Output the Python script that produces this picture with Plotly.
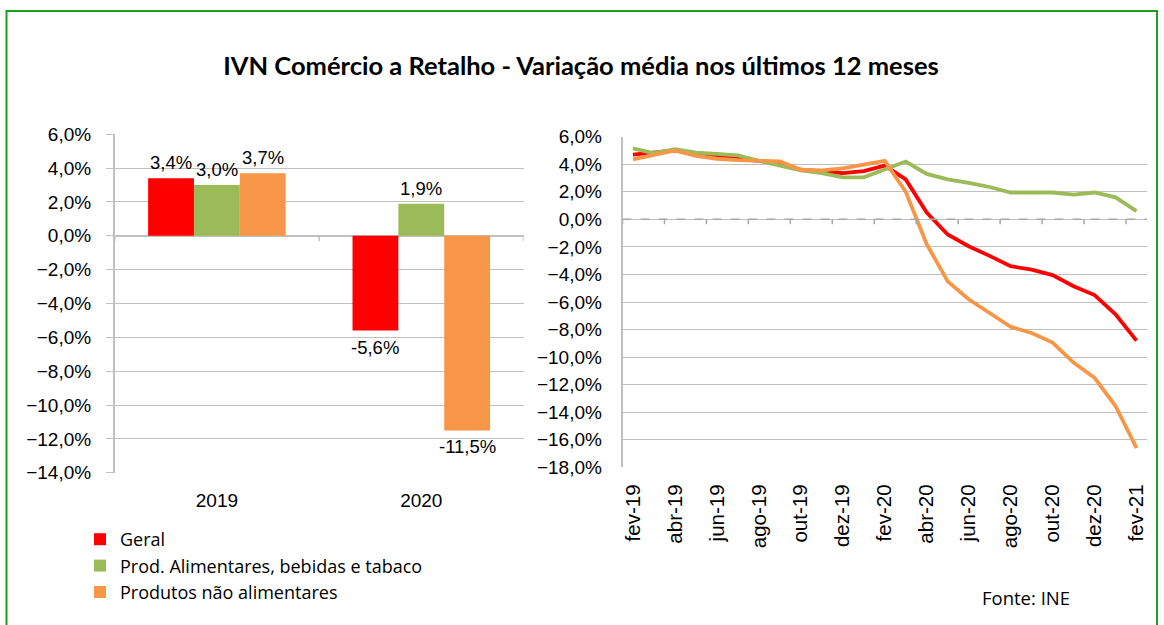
import plotly.graph_objects as go

# ---------------- data ----------------
anos = ["2019", "2020"]
geral_ano = [3.4, -5.6]
alim_ano = [3.0, 1.9]
nao_alim_ano = [3.7, -11.5]

meses = ["fev-19", "mar-19", "abr-19", "mai-19", "jun-19", "jul-19", "ago-19", "set-19",
         "out-19", "nov-19", "dez-19", "jan-20", "fev-20", "mar-20", "abr-20", "mai-20",
         "jun-20", "jul-20", "ago-20", "set-20", "out-20", "nov-20", "dez-20", "jan-21", "fev-21"]
geral_mes = [4.7, 4.85, 5.0, 4.7, 4.55, 4.45, 4.25, 4.1, 3.6, 3.5, 3.35, 3.5, 3.9,
             2.9, 0.5, -1.1, -1.95, -2.65, -3.4, -3.65, -4.05, -4.85, -5.5, -6.9, -8.8]
alim_mes = [5.15, 4.8, 5.1, 4.85, 4.75, 4.65, 4.25, 3.9, 3.55, 3.35, 3.05, 3.05, 3.6,
            4.2, 3.3, 2.9, 2.65, 2.35, 1.95, 1.95, 1.95, 1.8, 1.95, 1.6, 0.6]
nao_alim_mes = [4.35, 4.7, 5.0, 4.6, 4.4, 4.3, 4.25, 4.2, 3.6, 3.55, 3.7, 3.95, 4.25,
                2.0, -1.8, -4.5, -5.8, -6.8, -7.8, -8.25, -8.95, -10.4, -11.5, -13.55, -16.6]

nomes = ["Geral", "Prod. Alimentares, bebidas e tabaco", "Produtos não alimentares"]
cores = ["#FF0000", "#9BBB59", "#F79646"]

W, H = 1164, 625
def px_x(p):
    return p / W
def px_y(p):
    return 1 - p / H

FAM = "Liberation Sans, Arial, sans-serif"
TICK_FONT = dict(family=FAM, size=19, color="#000000")
XTICK_FONT = dict(family=FAM, size=20.5, color="#000000")
LABEL_FONT = dict(family=FAM, size=18.5, color="#000000")
GRID = "#C0C0C0"

LEFT_X0, LEFT_X1 = 114.7, 523.5
BARGAP = 0.327

fig = go.Figure()

def fmt(v):
    return f"{v:.1f}%".replace(".", ",")

series_ano = [geral_ano, alim_ano, nao_alim_ano]
for nome, cor, vals in zip(nomes, cores, series_ano):
    fig.add_trace(go.Bar(
        x=anos, y=vals, name=nome, marker=dict(color=cor, line=dict(width=0)),
        xaxis="x", yaxis="y", showlegend=True,
    ))

x_idx = list(range(len(meses)))
for nome, cor, vals in zip(nomes, cores, [geral_mes, alim_mes, nao_alim_mes]):
    fig.add_trace(go.Scatter(
        x=x_idx, y=vals, name=nome, mode="lines",
        line=dict(color=cor, width=3.8), xaxis="x2", yaxis="y2", showlegend=False,
    ))

# data labels for the bars (offset by bar slot within each group)
cat_px = (LEFT_X1 - LEFT_X0) / len(anos)
bar_px = cat_px * (1 - BARGAP) / len(series_ano)
annotations = []
for k, vals in enumerate(series_ano):
    for j, v in enumerate(vals):
        pos = v >= 0
        annotations.append(dict(
            text=fmt(v), x=j, y=v, xref="x", yref="y",
            xshift=(k - (len(series_ano) - 1) / 2) * bar_px,
            yanchor="bottom" if pos else "top", yshift=3 if pos else -4,
            xanchor="center", showarrow=False, font=LABEL_FONT))
annotations.append(dict(text="Fonte: INE", xref="paper", yref="paper",
                        x=px_x(980), y=px_y(597), xanchor="left", yanchor="middle",
                        showarrow=False,
                        font=dict(family="Open Sans, sans-serif", size=18.5, color="#000000")))

shapes = []
# outer green frame
shapes.append(dict(type="rect", xref="paper", yref="paper",
                   x0=px_x(6.5), x1=px_x(1157), y0=-0.02, y1=px_y(11),
                   line=dict(color="#1E9E1E", width=2), fillcolor="rgba(0,0,0,0)", layer="below"))
# left chart: tick marks on zero line at category boundaries
for b in [i - 0.5 for i in range(len(anos) + 1)]:
    shapes.append(dict(type="line", xref="x", yref="y", x0=b, x1=b, y0=0, y1=-0.32,
                       line=dict(color=GRID, width=1.5)))
# right chart: dashed zero line + tick marks every two months
shapes.append(dict(type="line", xref="x2", yref="y2", x0=-0.5, x1=len(meses) - 0.5, y0=0, y1=0,
                   line=dict(color="#A6A6A6", width=1.5, dash="dash")))
for b in [i - 0.5 for i in range(0, len(meses) + 1, 2)]:
    shapes.append(dict(type="line", xref="x2", yref="y2", x0=b, x1=b, y0=0, y1=-0.36,
                       line=dict(color="#A6A6A6", width=1.5)))

fig.update_layout(
    width=W, height=H, margin=dict(l=0, r=0, t=0, b=0, pad=0, autoexpand=False),
    paper_bgcolor="white", plot_bgcolor="white",
    separators=", ",
    barmode="group", bargap=BARGAP, bargroupgap=0,
    title=dict(text="<b>IVN Comércio a Retalho - Variação média nos últimos 12 meses</b>",
               x=px_x(581), xanchor="center", y=px_y(66), yanchor="middle",
               font=dict(family="Lato, sans-serif", size=25.5, color="#000000")),
    xaxis=dict(domain=[px_x(LEFT_X0), px_x(LEFT_X1)], anchor="y", type="category",
               categoryorder="array", categoryarray=anos, range=[-0.5, len(anos) - 0.5],
               showgrid=False, showline=False, zeroline=False, ticks="", automargin=False,
               tickfont=TICK_FONT, ticklabelstandoff=14),
    yaxis=dict(domain=[px_y(472.7), px_y(134.3)], anchor="x", range=[-14, 6], dtick=2,
               tickformat=".1f", ticksuffix="%", showgrid=True, gridcolor=GRID, gridwidth=1.3,
               zeroline=True, zerolinecolor=GRID, zerolinewidth=1.5,
               showline=True, linecolor=GRID, linewidth=1.5, automargin=False,
               ticks="outside", ticklen=7, tickcolor=GRID, tickwidth=1.3,
               tickfont=TICK_FONT, ticklabelstandoff=11),
    xaxis2=dict(domain=[px_x(622.5), px_x(1147)], anchor="y2", range=[-0.5, len(meses) - 0.5],
                tickvals=x_idx[::2], ticktext=meses[::2], tickangle=-90, automargin=False,
                showgrid=False, showline=False, zeroline=False, ticks="",
                tickfont=XTICK_FONT, ticklabelstandoff=12),
    yaxis2=dict(domain=[px_y(467.3), px_y(136.7)], anchor="x2", range=[-18, 6], dtick=2,
                tickformat=".1f", ticksuffix="%", showgrid=True, gridcolor=GRID, gridwidth=1.3,
                zeroline=False, showline=True, linecolor=GRID, linewidth=1.5, ticks="",
                automargin=False, tickfont=TICK_FONT, ticklabelstandoff=15),
    legend=dict(x=px_x(80), xanchor="left", y=px_y(521), yanchor="top",
                font=dict(family="Open Sans, sans-serif", size=18, color="#000000"),
                bgcolor="rgba(0,0,0,0)", tracegroupgap=0, itemclick=False),
    shapes=shapes,
    annotations=annotations,
)

fig.write_html("out.html")
